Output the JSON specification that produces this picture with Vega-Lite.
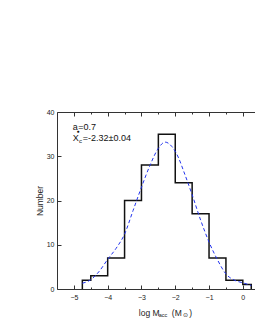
{
  "$schema": "https://vega.github.io/schema/vega-lite/v6.json",
  "width": 199,
  "height": 177,
  "autosize": "none",
  "padding": {"left": 57, "top": 112, "right": 0, "bottom": 41},
  "background": "white",
  "config": {
    "view": {"stroke": null},
    "font": "Liberation Sans",
    "axis": {"labelFont": "Liberation Sans", "titleFont": "Liberation Sans", "labelColor": "#222", "titleColor": "#222", "domainColor": "#333", "tickColor": "#333", "grid": false, "labelFontSize": 7}
  },
  "datasets": {
    "hist": [
      {"x": -4.75, "count": 0},
      {"x": -4.75, "count": 2},
      {"x": -4.5, "count": 3},
      {"x": -4.0, "count": 7},
      {"x": -3.5, "count": 20},
      {"x": -3.0, "count": 28},
      {"x": -2.5, "count": 35},
      {"x": -2.0, "count": 24},
      {"x": -1.5, "count": 17},
      {"x": -1.0, "count": 7},
      {"x": -0.5, "count": 2},
      {"x": 0.0, "count": 1},
      {"x": 0.25, "count": 0}
    ],
    "fit": [
      {"x": -4.75, "y": 1.3},
      {"x": -4.5, "y": 2.1},
      {"x": -4.25, "y": 4.0},
      {"x": -4.0, "y": 6.7},
      {"x": -3.75, "y": 9.2},
      {"x": -3.5, "y": 12.4},
      {"x": -3.25, "y": 17.7},
      {"x": -3.0, "y": 23.0},
      {"x": -2.75, "y": 27.9},
      {"x": -2.5, "y": 31.8},
      {"x": -2.3, "y": 33.2},
      {"x": -2.1, "y": 32.2},
      {"x": -1.9, "y": 29.6},
      {"x": -1.75, "y": 26.6},
      {"x": -1.5, "y": 21.3},
      {"x": -1.25, "y": 15.6},
      {"x": -1.0, "y": 10.6},
      {"x": -0.75, "y": 6.6},
      {"x": -0.5, "y": 3.4},
      {"x": -0.25, "y": 2.0},
      {"x": 0.0, "y": 1.4},
      {"x": 0.25, "y": 0.8}
    ]
  },
  "resolve": {"axis": {"x": "independent"}},
  "layer": [
    {
      "data": {"name": "hist"},
      "mark": {"type": "line", "interpolate": "step-after", "color": "#111", "strokeWidth": 1.5},
      "encoding": {
        "x": {"field": "x", "type": "quantitative", "scale": {"domain": [-5.5, 0.39], "nice": false, "zero": false},
          "axis": {"orient": "bottom", "title": null, "values": [-5, -4.5, -4, -3.5, -3, -2.5, -2, -1.5, -1, -0.5, 0],
            "labelExpr": "datum.value % 1 === 0 ? format(datum.value, 'd') : ''",
            "tickSize": {"condition": {"test": "datum.value % 1 === 0", "value": -4}, "value": -2},
            "labelPadding": 8, "domainWidth": 1}},
        "y": {"field": "count", "type": "quantitative", "scale": {"domain": [0, 40], "nice": false},
          "axis": {"title": "Number", "titleFontSize": 8.5, "titleFontWeight": "normal", "titlePadding": 2,
            "values": [0, 2.5, 5, 7.5, 10, 12.5, 15, 17.5, 20, 22.5, 25, 27.5, 30, 32.5, 35, 37.5, 40],
            "labelExpr": "datum.value % 5 === 0 ? format(datum.value, 'd') : ''",
            "tickSize": {"condition": {"test": "datum.value % 5 === 0", "value": -4}, "value": -2},
            "labelPadding": 7, "domainWidth": 1}}
      }
    },
    {
      "data": {"name": "fit"},
      "mark": {"type": "line", "interpolate": "monotone", "color": "#2233ee", "strokeWidth": 1, "strokeDash": [3.5, 2.5]},
      "encoding": {
        "x": {"field": "x", "type": "quantitative",
          "axis": {"orient": "top", "title": null, "labels": false, "values": [-5, -4.5, -4, -3.5, -3, -2.5, -2, -1.5, -1, -0.5, 0],
            "tickSize": {"condition": {"test": "datum.value % 1 === 0", "value": -4}, "value": -2}, "domainWidth": 1}},
        "y": {"field": "y", "type": "quantitative"}
      }
    },
    {
      "data": {"values": [
        {"piece": "a", "px": -5.036, "py": 36.6}
      ]},
      "layer": [
        {"mark": {"type": "text", "fontSize": 9, "align": "left", "baseline": "middle", "color": "#111"},
         "encoding": {"text": {"value": "a"}}},
        {"mark": {"type": "text", "fontSize": 5, "align": "left", "baseline": "middle", "color": "#111", "dx": 3.8, "dy": 4},
         "encoding": {"text": {"value": "●"}}},
        {"mark": {"type": "text", "fontSize": 9, "align": "left", "baseline": "middle", "color": "#111", "dx": 5.6},
         "encoding": {"text": {"value": "=0.7"}}}
      ],
      "encoding": {
        "x": {"field": "px", "type": "quantitative", "axis": null},
        "y": {"field": "py", "type": "quantitative"}
      }
    },
    {
      "data": {"values": [
        {"piece": "X", "px": -5.036, "py": 34.2}
      ]},
      "layer": [
        {"mark": {"type": "text", "fontSize": 9, "align": "left", "baseline": "middle", "color": "#111"},
         "encoding": {"text": {"value": "X"}}},
        {"mark": {"type": "text", "fontSize": 6, "align": "left", "baseline": "middle", "color": "#111", "dx": 6.4, "dy": 3},
         "encoding": {"text": {"value": "c"}}},
        {"mark": {"type": "text", "fontSize": 9, "align": "left", "baseline": "middle", "color": "#111", "dx": 10},
         "encoding": {"text": {"value": "=-2.32±0.04"}}}
      ],
      "encoding": {
        "x": {"field": "px", "type": "quantitative", "axis": null},
        "y": {"field": "py", "type": "quantitative"}
      }
    },
    {
      "data": {"values": [
        {"piece": "title", "px": -3.079, "py": -5.42}
      ]},
      "layer": [
        {"mark": {"type": "text", "fontSize": 8.5, "align": "left", "baseline": "middle", "color": "#222"},
         "encoding": {"text": {"value": "log M"}}},
        {"mark": {"type": "text", "fontSize": 5.5, "align": "left", "baseline": "middle", "color": "#222", "dx": 20, "dy": 2.5},
         "encoding": {"text": {"value": "acc"}}},
        {"mark": {"type": "text", "fontSize": 8.5, "align": "left", "baseline": "middle", "color": "#222", "dx": 33},
         "encoding": {"text": {"value": "(M"}}},
        {"mark": {"type": "text", "fontSize": 5.5, "align": "left", "baseline": "middle", "color": "#222", "dx": 44, "dy": 2.5},
         "encoding": {"text": {"value": "⊙"}}},
        {"mark": {"type": "text", "fontSize": 8.5, "align": "left", "baseline": "middle", "color": "#222", "dx": 50.5},
         "encoding": {"text": {"value": ")"}}}
      ],
      "encoding": {
        "x": {"field": "px", "type": "quantitative", "axis": null},
        "y": {"field": "py", "type": "quantitative"}
      }
    }
  ]
}
